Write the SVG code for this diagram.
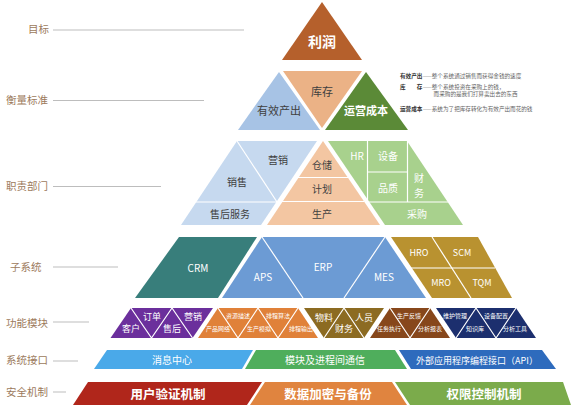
<svg xmlns="http://www.w3.org/2000/svg" width="580" height="406" viewBox="0 0 580 406">
<style>
text{font-family:"Noto Sans CJK SC","Noto Sans",sans-serif;text-anchor:middle}
.lbl{font-size:10.5px;fill:#9c7a5c;text-anchor:start}
.lead{stroke:#bdbdbd;stroke-width:1;fill:none}
.sep{stroke:#fff;stroke-width:1.2;fill:none}
.w{fill:#fff}
.d{fill:#404040}
.t10{font-size:10px}
.t11{font-size:11px}
.t9{font-size:9px}
.t6{font-size:6px}
.b{font-weight:bold}
.note{font-size:5.6px;fill:#666;text-anchor:start}
.notek{font-size:5.6px;fill:#333;font-weight:bold;text-anchor:start}
</style>
<rect width="580" height="406" fill="#fff"/>

<g id="connectors">
<line class="lead" x1="53" y1="30" x2="244" y2="30"/>
<line class="lead" x1="53" y1="100.5" x2="204" y2="100.5"/>
<line class="lead" x1="53" y1="186.5" x2="161" y2="186.5"/>
<line class="lead" x1="53" y1="267" x2="118" y2="267"/>
<line class="lead" x1="53" y1="322" x2="89" y2="322"/>
<line class="lead" x1="53" y1="361" x2="78" y2="361"/>
<line class="lead" x1="53" y1="392" x2="66" y2="392"/>
</g>

<g id="layer-labels">
<text class="lbl" x="28" y="33">目标</text>
<text class="lbl" x="6" y="104">衡量标准</text>
<text class="lbl" x="6" y="190">职责部门</text>
<text class="lbl" x="10" y="271">子系统</text>
<text class="lbl" x="6" y="327">功能模块</text>
<text class="lbl" x="6" y="364">系统接口</text>
<text class="lbl" x="6" y="396">安全机制</text>
</g>

<g id="profit">
<polygon points="322,2 362,60 282,60" fill="#b5602c"/>
<text class="w b" x="322" y="47" font-size="14">利润</text>
</g>

<g id="throughput">
<polygon points="279,72 320,130 238,130" fill="#a7c3e5"/>
<text class="d t11" x="279" y="115">有效产出</text>
</g>
<g id="inventory">
<polygon points="283,71 362,71 322,128" fill="#ebb286"/>
<text class="d t11" x="322" y="96">库存</text>
</g>
<g id="opex">
<polygon points="366,72 408,130 325,130" fill="#5b8a37"/>
<text class="w t11 b" x="366" y="115">运营成本</text>
</g>

<g id="notes">
<text class="notek" x="400" y="78">有效产出</text><text class="note" x="422.4" y="78">——整个系统通过销售而获得金钱的速度</text>
<text class="notek" x="400" y="89">库</text><text class="notek" x="416.8" y="89">存</text><text class="note" x="422.4" y="89">——整个系统投资在采购上的钱，</text>
<text class="note" x="433.6" y="96">而采购的是我们打算卖出去的东西</text>
<text class="notek" x="400" y="111">运营成本</text><text class="note" x="422.4" y="111">——系统为了把库存转化为有效产出而花的钱</text>
</g>

<g id="dept-sales">
<polygon points="237,141 317,141 261,225 181,225" fill="#c6d9ef"/>
<polyline class="sep" points="237,141 277,202"/>
<polyline class="sep" points="196,202 277,202"/>
<text class="d t10" x="278" y="164">营销</text>
<text class="d t10" x="237" y="186">销售</text>
<text class="d t10" x="230" y="218">售后服务</text>
</g>

<g id="dept-production">
<polygon points="323,141 380,225 267,225" fill="#f3c6a2"/>
<polyline class="sep" points="298,177.5 348,177.5"/>
<polyline class="sep" points="282,201.5 364,201.5"/>
<text class="d t10" x="322" y="169">仓储</text>
<text class="d t10" x="322" y="193">计划</text>
<text class="d t10" x="322" y="218">生产</text>
</g>

<g id="dept-support">
<polygon points="328,141 407,141 463,225 385,225" fill="#a8d18d"/>
<polyline class="sep" points="367.5,141 367.5,202"/>
<polyline class="sep" points="407.5,141 407.5,202"/>
<polyline class="sep" points="367.5,172 407.5,172"/>
<polyline class="sep" points="368,202 448,202"/>
<text class="w t10" x="357" y="160">HR</text>
<text class="w t10" x="388" y="160">设备</text>
<text class="w t10" x="388" y="192">品质</text>
<text class="w t10" x="419" y="182">财</text>
<text class="w t10" x="419" y="197">务</text>
<text class="w t10" x="417" y="218">采购</text>
</g>

<g id="crm">
<polygon points="179,237 257,237 218,298 135,298" fill="#387e7b"/>
<text class="w t10" x="198" y="272">CRM</text>
</g>
<g id="erp">
<polygon points="262,237 385,237 426,298 222,298" fill="#6c9bd4"/>
<polyline class="sep" points="262,237 303,298"/>
<polyline class="sep" points="385,237 344,298"/>
<text class="w t10" x="263" y="281">APS</text>
<text class="w t10" x="323" y="271">ERP</text>
<text class="w t10" x="384" y="281">MES</text>
</g>
<g id="scm-group">
<polygon points="391,237 478,237 512,298 432,298" fill="#b99230"/>
<polyline class="sep" points="411,268 495,268"/>
<polyline class="sep" points="432,237 471,298"/>
<text class="w t9" x="419" y="256">HRO</text>
<text class="w t9" x="462" y="256">SCM</text>
<text class="w t9" x="441" y="286">MRO</text>
<text class="w t9" x="482" y="286">TQM</text>
</g>

<g id="mod-crm">
<polygon points="131,308 213,308 192.5,338 110.5,338" fill="#6b2f9c"/>
<polyline class="sep" points="131,308 151.5,338 172,308 192.5,338"/>
<text class="w t9" x="131" y="332">客户</text>
<text class="w t9" x="152" y="320">订单</text>
<text class="w t9" x="172" y="332">售后</text>
<text class="w t9" x="193" y="320">营销</text>
</g>
<g id="mod-plan">
<polygon points="218,308 298,308 318,338 198,338" fill="#e08139"/>
<polyline class="sep" points="218,308 238,338 258,308 278,338 298,308"/>
<text class="w t6" x="218" y="331">产品网络</text>
<text class="w t6" x="238" y="318">资源描述</text>
<text class="w t6" x="259" y="331">生产模拟</text>
<text class="w t6" x="278" y="318">排程算法</text>
<text class="w t6" x="301" y="331">排程输出</text>
</g>
<g id="mod-erp">
<polygon points="304,308 384,308 364,338 324,338" fill="#8c6b22"/>
<polyline class="sep" points="324,338 344,308 364,338"/>
<text class="w t9" x="324" y="321">物料</text>
<text class="w t9" x="344" y="332">财务</text>
<text class="w t9" x="364" y="321">人员</text>
</g>
<g id="mod-mes">
<polygon points="390,308 430,308 450,338 370,338" fill="#87471b"/>
<polyline class="sep" points="390,308 410,338 430,308"/>
<text class="w t6" x="389" y="331">任务执行</text>
<text class="w t6" x="409" y="318">生产反馈</text>
<text class="w t6" x="430" y="331">分析报表</text>
</g>
<g id="mod-maint">
<polygon points="436,308 516,308 536,338 456,338" fill="#1c2f6e"/>
<polyline class="sep" points="456,338 476,308 496,338 516,308"/>
<text class="w t6" x="455" y="318">维护管理</text>
<text class="w t6" x="475" y="331">知识库</text>
<text class="w t6" x="496" y="318">设备配置</text>
<text class="w t6" x="515" y="331">分析工具</text>
</g>

<g id="if-msg">
<polygon points="107,350 253,350 242,369 94,369" fill="#4aa9e9"/>
<text class="w t10" x="172" y="363.5">消息中心</text>
</g>
<g id="if-ipc">
<polygon points="256,350 395,350 407,369 245,369" fill="#4fae5c"/>
<text class="w t10" x="325" y="363.5">模块及进程间通信</text>
</g>
<g id="if-api">
<polygon points="399,350 542,350 556,369 411,369" fill="#2e6bbd"/>
<text class="w t9" x="477" y="363.5">外部应用程序编程接口（API）</text>
</g>

<g id="sec-auth">
<polygon points="88,382 262,382 247,405 73,405" fill="#b0261b"/>
<text class="w b" x="168" y="398.5" font-size="12.5">用户验证机制</text>
</g>
<g id="sec-crypto">
<polygon points="265,382 392,382 407,405 250,405" fill="#e0843f"/>
<text class="w b" x="328" y="398.5" font-size="12.5">数据加密与备份</text>
</g>
<g id="sec-acl">
<polygon points="395,382 563,382 571,405 410,405" fill="#7bab4b"/>
<text class="w b" x="484" y="398.5" font-size="12.5">权限控制机制</text>
</g>
</svg>
